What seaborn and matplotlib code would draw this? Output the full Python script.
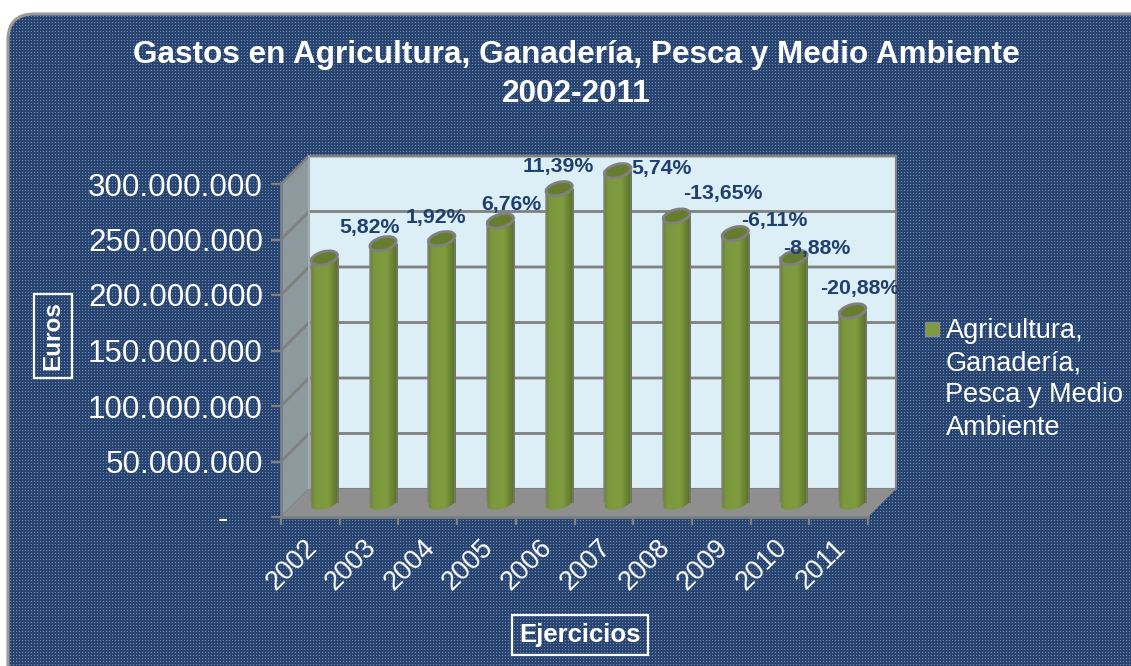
import numpy as np
import pandas as pd
import matplotlib
matplotlib.use("Agg")
import matplotlib.pyplot as plt
import seaborn as sns
from matplotlib.patches import Ellipse, FancyBboxPatch, Polygon
from matplotlib.lines import Line2D
from matplotlib.transforms import IdentityTransform, ScaledTranslation

years = ["2002", "2003", "2004", "2005", "2006", "2007", "2008", "2009", "2010", "2011"]
gastos = [220.7e6, 233.6e6, 238.1e6, 254.2e6, 283.1e6, 299.3e6, 258.5e6, 242.7e6, 221.2e6, 173.0e6]
variacion = ["", "5,82%", "1,92%", "6,76%", "11,39%", "5,74%", "-13,65%", "-6,11%", "-8,88%", "-20,88%"]
y_values = [0, 50e6, 100e6, 150e6, 200e6, 250e6, 300e6]
y_labels = ["-    ", "50.000.000", "100.000.000", "150.000.000", "200.000.000", "250.000.000", "300.000.000"]
serie = "Agricultura,\nGanadería,\nPesca y Medio\nAmbiente"
titulo = "Gastos en Agricultura, Ganadería, Pesca y Medio Ambiente\n2002-2011"

W, H = 1131, 666
sns.set_theme(style="white")
plt.rcParams["font.family"] = ["Liberation Sans", "DejaVu Sans"]
fig = plt.figure(figsize=(W / 100, H / 100), dpi=100, facecolor="white")

def rect(x0, y_top, x1, y_bot):
    return [x0 / W, 1 - y_bot / H, (x1 - x0) / W, (y_bot - y_top) / H]

def P(x, y):
    return (x, H - y)

# textured rounded panel
bg = fig.add_axes([0, 0, 1, 1], zorder=0)
bg.set_axis_off()
tex = np.zeros((H, W, 3))
tex[:] = np.array([0x2A, 0x47, 0x74]) / 255
tex[1::3, 1::3] = np.array([0x6F, 0x8A, 0xAE]) / 255
tex[::3, ::3] = np.array([0x24, 0x3E, 0x68]) / 255
im = bg.imshow(tex, extent=(0, W, 0, H), origin="upper", interpolation="nearest", aspect="auto")
panel = FancyBboxPatch((8, -40), W + 60, H + 40 - 14, boxstyle="round,pad=0,rounding_size=26",
                       fc="none", ec="#9A9A9A", lw=2.2, zorder=3)
bg.add_patch(panel)
im.set_clip_path(panel)
bg.set_xlim(0, W)
bg.set_ylim(0, H)

# 3D frame built on the front axes
DX, DY = 28, 28
front = fig.add_axes(rect(281, 184, 868, 517), zorder=1)
front.patch.set_alpha(0)
front.set_xlim(-0.5, 9.5)
front.set_ylim(0, 300e6)
sx = 10 / 587
sy = 300e6 / 333
dx, dy = DX * sx, DY * sy
GRID = "#808080"
wall = Polygon([(-0.5 + dx, dy), (9.5 + dx, dy), (9.5 + dx, 300e6 + dy), (-0.5 + dx, 300e6 + dy)],
               fc="#DCEEF6", ec=GRID, lw=1.5, clip_on=False, zorder=1)
side = Polygon([(-0.5, 0), (-0.5 + dx, dy), (-0.5 + dx, 300e6 + dy), (-0.5, 300e6)],
               fc="#8C9A9E", ec="none", clip_on=False, zorder=1)
floor = Polygon([(-0.5, 0), (9.5, 0), (9.5 + dx, dy), (-0.5 + dx, dy)],
                fc="#8F8F8F", ec="none", clip_on=False, zorder=3)
for p in (wall, side, floor):
    front.add_patch(p)
for v in y_values:
    front.plot([-0.5, -0.5 + dx, 9.5 + dx], [v, v + dy, v + dy], color=GRID, lw=2.0 if v else 1.2,
               clip_on=False, zorder=2, solid_joinstyle="miter")
front.plot([-0.5 + dx, -0.5 + dx], [dy, 300e6 + dy], color="#A9B4B7", lw=1.2, clip_on=False, zorder=2)
for s in ("top", "right"):
    front.spines[s].set_visible(False)
for s in ("left", "bottom"):
    front.spines[s].set_color("#7A7F86")
    front.spines[s].set_linewidth(2)
    front.spines[s].set_zorder(4)
front.set_yticks(y_values, y_labels, fontsize=22.6, color="white")
front.set_xticks(range(10), years, fontsize=19.5, color="white", rotation=45, ha="right", rotation_mode="anchor")
front.set_xticks(np.arange(-0.5, 10), minor=True)
front.tick_params(axis="x", which="major", length=0, pad=12.5)
front.tick_params(axis="x", which="minor", length=6, width=1.6, color=GRID, bottom=True)
front.tick_params(axis="y", which="major", length=7.5, width=1.6, color=GRID, pad=5.5, left=True)
front.grid(False)
shift = ScaledTranslation(-6 / 100, 0, fig.dpi_scale_trans)
for lab in front.get_xticklabels():
    lab.set_transform(lab.get_transform() + shift)

# cylinders, on a plane half way into the depth
ax = fig.add_axes(rect(295, 170, 882, 503), zorder=2)
ax.patch.set_alpha(0)
df = pd.DataFrame({"Ejercicio": years, "Euros": gastos})
sns.barplot(data=df, x="Ejercicio", y="Euros", color="#7F9B3F", width=0.46, ax=ax, edgecolor="none", saturation=1)
ax.set_xlim(-0.5, 9.5)
ax.set_ylim(0, 300e6)
ax.set_axis_off()
fig.canvas.draw()

stops = np.array([0, .15, .6, .85, 1.0])
cols = np.array([[0x6A, 0x83, 0x33], [0x7C, 0x98, 0x3E], [0x80, 0x9C, 0x40], [0x66, 0x80, 0x2F], [0x4F, 0x64, 0x27]]) / 255
xs = np.linspace(0, 1, 64)
grad = np.stack([np.interp(xs, stops, cols[:, c]) for c in range(3)], axis=-1)[None, :, :]
ANGLE = 15
for i, bar in enumerate(list(ax.patches)):
    x0, w, h = bar.get_x(), bar.get_width(), bar.get_height()
    (px0, py0), (px1, py1) = ax.transData.transform([(x0, 0), (x0 + w, h)])
    pw = px1 - px0
    cx = (px0 + px1) / 2
    # base of the cylinder
    base = Ellipse((cx, py0), pw, 12, angle=ANGLE, transform=IdentityTransform(), fc="none", ec="none", clip_on=False)
    ax.add_patch(base)
    gb = ax.imshow(grad, extent=(x0, x0 + w, -12e6, 8e6), aspect="auto", zorder=1.5, interpolation="bilinear")
    gb.set_clip_box(fig.bbox)
    gb.set_clip_path(base)
    # shaded body
    gi = ax.imshow(grad, extent=(x0, x0 + w, 0, h), aspect="auto", zorder=2, interpolation="bilinear")
    gi.set_clip_box(fig.bbox)
    gi.set_clip_path(bar)
    ax.plot([x0, x0], [0, h], color=GRID, lw=1.3, zorder=3, alpha=.75, clip_on=False)
    ax.plot([x0 + w, x0 + w], [0, h], color=GRID, lw=1.3, zorder=3, alpha=.75, clip_on=False)
    # open top of the cylinder
    ax.add_patch(Ellipse((cx, py1), pw, 13, angle=ANGLE, transform=IdentityTransform(),
                         fc="#667C2E", ec=GRID, lw=2, zorder=4, clip_on=False))
ax.set_xlim(-0.5, 9.5)
ax.set_ylim(0, 300e6)

# percentage labels
label_offsets = [(0, 0), (-14, 16), (-6, 21), (11, 16), (-1, 22), (44, 2), (46, 23), (39, 13), (23, 9), (7, 22)]
LABEL = "#1F3F6E"
for i, (txt, off) in enumerate(zip(variacion, label_offsets)):
    if txt:
        ax.annotate(txt, (i, gastos[i]), xytext=(off[0] * .72, off[1] * .72), textcoords="offset points",
                    ha="center", va="center", fontsize=15.3, fontweight="bold", color=LABEL, zorder=6,
                    annotation_clip=False)

# texts on top
top = fig.add_axes([0, 0, 1, 1], zorder=3)
top.set_axis_off()
top.set_xlim(0, W)
top.set_ylim(0, H)
top.text(*P(576, 74.5), titulo, ha="center", va="center", color="white", fontsize=22.7, fontweight="bold", linespacing=1.37)
box = dict(boxstyle="square,pad=0.3", fc="none", ec="white", lw=1.6)
top.text(*P(53, 336), "Euros", rotation=90, ha="center", va="center", color="white", fontsize=17.5, fontweight="bold", bbox=box)
top.text(*P(580, 635), "Ejercicios", ha="center", va="center", color="white", fontsize=18.5, fontweight="bold", bbox=box)

handle = Line2D([], [], ls="none", marker="s", ms=9.5, mfc="#7F9B3F", mec="#8A8A8A", mew=1.0)
leg = top.legend([handle], [serie], loc="upper left", bbox_to_anchor=(923 / W, 1 - 318 / H), frameon=False,
                 prop={"size": 19.5}, labelcolor="white", handlelength=0.7, handleheight=1.05, handletextpad=0.13,
                 borderpad=0, borderaxespad=0)
for t in leg.get_texts():
    t.set_linespacing(1.31)
for hp in leg._legend_handle_box.get_children()[0].get_children():
    hp.align = "top"

fig.savefig("out.png", dpi=100)
